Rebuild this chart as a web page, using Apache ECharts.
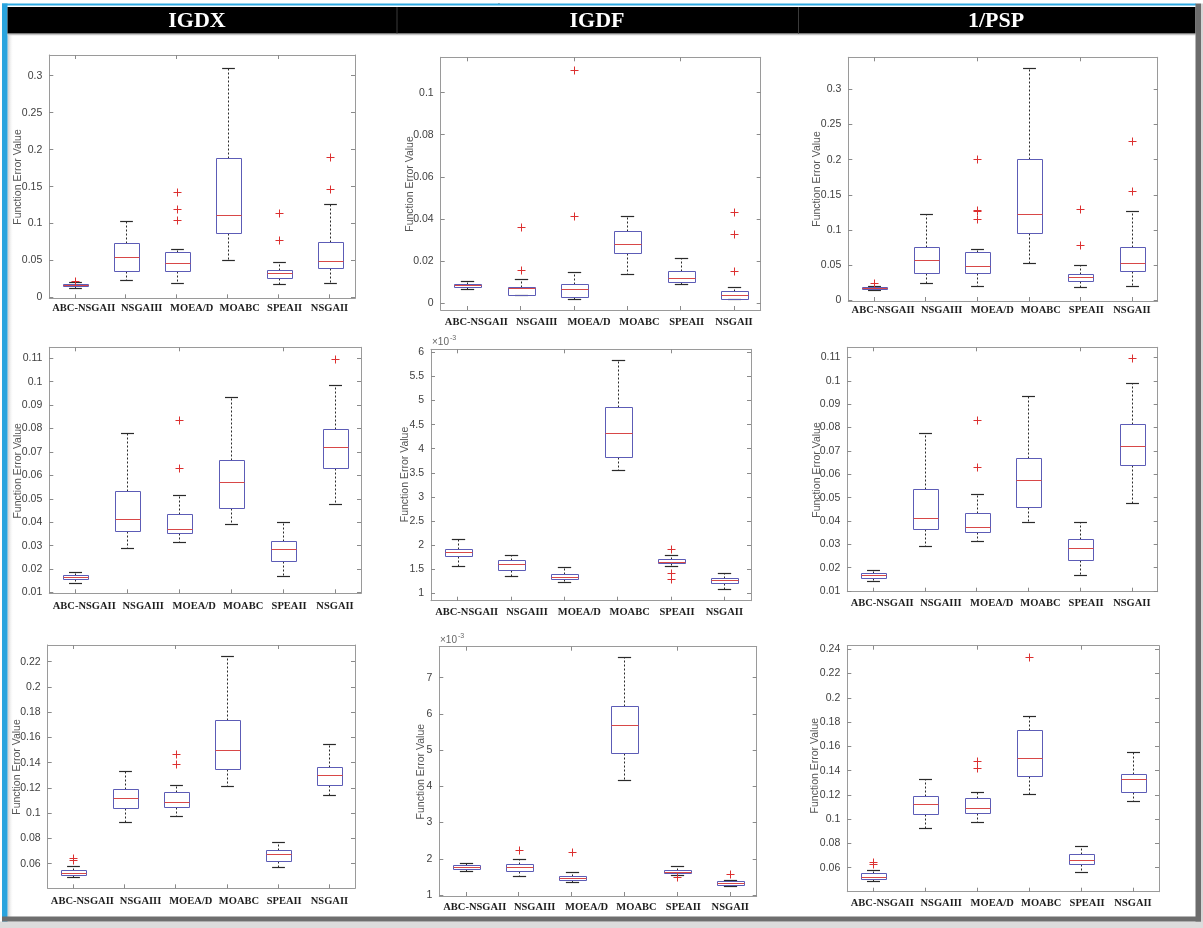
<!DOCTYPE html>
<html>
<head>
<meta charset="utf-8">
<script src="https://cdn.jsdelivr.net/npm/echarts@6.0.0/dist/echarts.min.js"></script>
<style>
html,body{margin:0;padding:0;background:#fff;}
#chart{width:1203px;height:928px;}
</style>
</head>
<body>
<div id="chart"></div>
<script>
// ---------------- DATA ----------------
const categories = ['ABC-NSGAII', 'NSGAIII', 'MOEA/D', 'MOABC', 'SPEAII', 'NSGAII'];
const metricTitles = ['IGDX', 'IGDF', '1/PSP'];
const yAxisTitle = 'Function Error Value';
const sciLabel = '\u00d710';
const sciExp = '-3';

// box stats: [min, Q1, median, Q3, max] per category ; outliers: [categoryIndex, value]
// Row 1
const igdxR1Box = [[0.013,0.0155,0.017,0.019,0.021],[0.024,0.036,0.0555,0.0735,0.103],[0.0194,0.036,0.047,0.061,0.065],[0.051,0.087,0.1123,0.1886,0.3104],[0.0185,0.0266,0.033,0.037,0.0487],[0.0194,0.0397,0.050,0.0753,0.127]];
const igdxR1Out = [[0,0.023],[2,0.1425],[2,0.1195],[2,0.1047],[4,0.115],[4,0.078],[5,0.19],[5,0.147]];
const igdxR1Ticks = [0,0.05,0.1,0.15,0.2,0.25,0.3];

const igdfR1Box = [[0.0065,0.0077,0.0085,0.0092,0.0104],[0.0036,0.0038,0.007,0.0078,0.0116],[0.002,0.003,0.0068,0.0092,0.0149],[0.0136,0.0238,0.028,0.0342,0.0415],[0.0092,0.0098,0.012,0.0152,0.0216],[0.002,0.0021,0.0038,0.0055,0.0078]];
const igdfR1Out = [[1,0.0361],[1,0.0157],[2,0.111],[2,0.0414],[5,0.0434],[5,0.033],[5,0.0152]];
const igdfR1Ticks = [0,0.02,0.04,0.06,0.08,0.1];

const pspR1Box = [[0.014,0.016,0.0175,0.0195,0.021],[0.0246,0.0384,0.0573,0.0763,0.1227],[0.02,0.0384,0.049,0.068,0.0735],[0.0526,0.0953,0.1223,0.2014,0.33],[0.019,0.0275,0.033,0.037,0.0498],[0.0209,0.0412,0.053,0.0763,0.1275]];
const pspR1Out = [[0,0.024],[2,0.201],[2,0.129],[2,0.127],[2,0.1156],[4,0.13],[4,0.078],[5,0.226],[5,0.1555]];
const pspR1Ticks = [0,0.05,0.1,0.15,0.2,0.25,0.3];

// Row 2
const igdxR2Box = [[0.0143,0.0157,0.0168,0.0175,0.019],[0.0292,0.0365,0.0414,0.0534,0.078],[0.0318,0.0353,0.0372,0.0434,0.0515],[0.0393,0.0463,0.0574,0.0665,0.0934],[0.0171,0.0237,0.0285,0.0322,0.04],[0.0477,0.0633,0.0723,0.080,0.0986]];
const igdxR2Out = [[2,0.0837],[2,0.0633],[5,0.1097]];
const igdxR2Ticks = [0.01,0.02,0.03,0.04,0.05,0.06,0.07,0.08,0.09,0.1,0.11];

// values in units of 1e-3
const igdfR2Box = [[1.574,1.775,1.85,1.927,2.127],[1.367,1.484,1.60,1.69,1.795],[1.242,1.297,1.346,1.40,1.54],[3.566,3.828,4.333,4.873,5.848],[1.57,1.622,1.65,1.705,1.795],[1.083,1.207,1.27,1.325,1.43]];
const igdfR2Out = [[4,1.913],[4,1.43],[4,1.30]];
const igdfR2Ticks = [1,1.5,2,2.5,3,3.5,4,4.5,5,5.5,6];

const pspR2Box = [[0.0143,0.0157,0.0167,0.0176,0.0189],[0.0293,0.0364,0.0411,0.0536,0.0779],[0.0316,0.0354,0.0376,0.0433,0.0516],[0.0394,0.0461,0.0574,0.0671,0.0937],[0.0169,0.0233,0.0283,0.0321,0.0397],[0.0476,0.0639,0.0723,0.0814,0.099]];
const pspR2Out = [[2,0.0833],[2,0.0631],[5,0.1097]];
const pspR2Ticks = [0.01,0.02,0.03,0.04,0.05,0.06,0.07,0.08,0.09,0.1,0.11];

// Row 3
const igdxR3Box = [[0.0492,0.0508,0.0529,0.0547,0.0584],[0.093,0.1044,0.1123,0.1189,0.1337],[0.0975,0.1049,0.1088,0.117,0.1223],[0.1218,0.135,0.1503,0.1735,0.2242],[0.0571,0.0624,0.0674,0.0706,0.0774],[0.1141,0.1223,0.13,0.1368,0.1548]];
const igdxR3Out = [[0,0.0648],[0,0.0626],[2,0.1466],[2,0.1387]];
const igdxR3Ticks = [0.06,0.08,0.1,0.12,0.14,0.16,0.18,0.2,0.22];

// values in units of 1e-3
const igdfR3Box = [[1.663,1.718,1.773,1.828,1.874],[1.534,1.663,1.764,1.847,1.985],[1.359,1.414,1.478,1.534,1.626],[4.166,4.92,5.684,6.218,7.561],[1.552,1.598,1.644,1.70,1.81],[1.258,1.285,1.34,1.386,1.414]];
const igdfR3Out = [[1,2.233],[2,2.187],[4,1.50],[5,1.589]];
const igdfR3Ticks = [1,2,3,4,5,6,7];

const pspR3Box = [[0.0493,0.0504,0.0526,0.0556,0.0581],[0.093,0.104,0.1128,0.1191,0.1334],[0.0974,0.1053,0.1092,0.1174,0.1227],[0.121,0.1353,0.1501,0.1738,0.185],[0.0564,0.063,0.0666,0.071,0.0776],[0.1147,0.1227,0.1328,0.1375,0.1551]];
const pspR3Out = [[0,0.0644],[0,0.0627],[2,0.1479],[2,0.1419],[3,0.2337]];
const pspR3Ticks = [0.06,0.08,0.1,0.12,0.14,0.16,0.18,0.2,0.22,0.24];

// ---------------- LAYOUT / STYLE ----------------
const panels = [
  {box: igdxR1Box, out: igdxR1Out, ticks: igdxR1Ticks, grid: [49.3, 55, 305.7, 243.3], range: [-0.001, 0.328], name: [18.3, 177], xm: 4.5},
  {box: igdfR1Box, out: igdfR1Out, ticks: igdfR1Ticks, grid: [440.7, 57.3, 320, 252.7], range: [-0.0033, 0.1168], name: [410, 184], xm: 7},
  {box: pspR1Box, out: pspR1Out, ticks: pspR1Ticks, grid: [848.3, 57.3, 309.4, 243.7], range: [-0.001, 0.3455], name: [816.7, 179], xm: 4},
  {box: igdxR2Box, out: igdxR2Out, ticks: igdxR2Ticks, grid: [49.3, 347.3, 311.7, 246], range: [0.0097, 0.1147], name: [17.7, 470.8], xm: 7},
  {box: igdfR2Box, out: igdfR2Out, ticks: igdfR2Ticks, grid: [431, 349.3, 320, 251.4], range: [0.848, 6.062], name: [405, 474.5], xm: 6, sci: [432, 342]},
  {box: pspR2Box, out: pspR2Out, ticks: pspR2Ticks, grid: [847.3, 347.3, 310.4, 244.4], range: [0.0097, 0.1144], name: [816.7, 470], xm: 6},
  {box: igdxR3Box, out: igdxR3Out, ticks: igdxR3Ticks, grid: [47.7, 645, 307.3, 243.3], range: [0.0405, 0.2332], name: [16.7, 767], xm: 7},
  {box: igdfR3Box, out: igdfR3Out, ticks: igdfR3Ticks, grid: [439.3, 646.7, 317.4, 249.3], range: [0.972, 7.856], name: [421, 771.7], xm: 6, sci: [440, 640]},
  {box: pspR3Box, out: pspR3Out, ticks: pspR3Ticks, grid: [847.3, 645.7, 311.7, 246], range: [0.0402, 0.243], name: [815, 765.7], xm: 6}
];
// horizontal shift (px) of each category label relative to its tick (labels are evenly typeset in the source)
const labelShift = [9, 16, 15, 12, 6, 0];

const FRAME = '#9a9a9a';
const BOX = '#5c5cb6';
const MED = '#d84848';
const WHISK = '#2a2a2a';
const OUT = '#dc3030';
const LABEL_FONT = '"Liberation Serif", "Times New Roman", serif';

function crisp(v) { return Math.round(v) + 0.5; }

function renderBox(params, api) {
  const ci = api.value(0);
  const pMin = api.coord([ci, api.value(1)]);
  const pQ1 = api.coord([ci, api.value(2)]);
  const pMed = api.coord([ci, api.value(3)]);
  const pQ3 = api.coord([ci, api.value(4)]);
  const pMax = api.coord([ci, api.value(5)]);
  const band = api.size([1, 0])[0];
  const hw = band * 0.25, cw = band * 0.125;
  const cx = crisp(pMin[0]);
  const yMin = crisp(pMin[1]), yQ1 = crisp(pQ1[1]), yMed = crisp(pMed[1]), yQ3 = crisp(pQ3[1]), yMax = crisp(pMax[1]);
  const x0 = crisp(cx - hw), x1 = crisp(cx + hw);
  return {
    type: 'group',
    children: [
      {type: 'line', shape: {x1: cx, y1: yQ3, x2: cx, y2: yMax}, style: {stroke: WHISK, lineWidth: 1, lineDash: [2, 2]}},
      {type: 'line', shape: {x1: cx, y1: yQ1, x2: cx, y2: yMin}, style: {stroke: WHISK, lineWidth: 1, lineDash: [2, 2]}},
      {type: 'line', shape: {x1: cx - cw, y1: yMax, x2: cx + cw, y2: yMax}, style: {stroke: WHISK, lineWidth: 1.2}},
      {type: 'line', shape: {x1: cx - cw, y1: yMin, x2: cx + cw, y2: yMin}, style: {stroke: WHISK, lineWidth: 1.2}},
      {type: 'rect', shape: {x: x0, y: yQ3, width: x1 - x0, height: yQ1 - yQ3}, style: {fill: 'rgba(255,255,255,0)', stroke: BOX, lineWidth: 1}},
      {type: 'line', shape: {x1: x0, y1: yMed, x2: x1, y2: yMed}, style: {stroke: MED, lineWidth: 1}}
    ]
  };
}

function renderOutlier(params, api) {
  const p = api.coord([api.value(0), api.value(1)]);
  const x = crisp(p[0]), y = crisp(p[1]), s = 4;
  return {
    type: 'group',
    children: [
      {type: 'line', shape: {x1: x - s, y1: y, x2: x + s, y2: y}, style: {stroke: OUT, lineWidth: 1}},
      {type: 'line', shape: {x1: x, y1: y - s, x2: x, y2: y + s}, style: {stroke: OUT, lineWidth: 1}}
    ]
  };
}

const fmt = v => String(+(+v).toFixed(5));

// rich styles shifting each category label
const labelRich = {};
labelShift.forEach((d, k) => {
  labelRich['c' + k] = {
    fontFamily: LABEL_FONT, fontWeight: 'bold', fontSize: 10.5, color: '#1e1e1e',
    padding: d >= 0 ? [0, 0, 0, 2 * d] : [0, -2 * d, 0, 0]
  };
});
const labelFmt = (v) => '{c' + categories.indexOf(v) + '|' + v + '}';

const grids = [], xAxes = [], yAxes = [], series = [], graphics = [];

panels.forEach((p, i) => {
  grids.push({left: p.grid[0], top: p.grid[1], width: p.grid[2], height: p.grid[3], show: false});
  const tickStyle = {show: true, inside: true, length: 4, lineStyle: {color: '#8a8a8a'}};
  xAxes.push({
    type: 'category', gridIndex: i, data: categories, position: 'bottom', boundaryGap: true,
    axisLine: {show: true, onZero: false, lineStyle: {color: FRAME}},
    axisTick: Object.assign({alignWithLabel: true}, tickStyle),
    axisLabel: {show: true, interval: 0, margin: p.xm, hideOverlap: false, formatter: labelFmt, rich: labelRich,
      fontFamily: LABEL_FONT, fontWeight: 'bold', fontSize: 10.5, color: '#1e1e1e'},
    splitLine: {show: false}
  });
  xAxes.push({
    type: 'category', gridIndex: i, data: categories, position: 'top', boundaryGap: true,
    axisLine: {show: true, onZero: false, lineStyle: {color: FRAME}},
    axisTick: Object.assign({alignWithLabel: true}, tickStyle),
    axisLabel: {show: false}, splitLine: {show: false}
  });
  yAxes.push({
    type: 'value', gridIndex: i, position: 'left', min: p.range[0], max: p.range[1],
    axisLine: {show: true, onZero: false, lineStyle: {color: FRAME}},
    axisTick: Object.assign({customValues: p.ticks}, tickStyle),
    axisLabel: {show: true, customValues: p.ticks, formatter: fmt, margin: 7, fontFamily: '"Liberation Sans", Arial, sans-serif', fontSize: 10.5, color: '#404040'},
    splitLine: {show: false}
  });
  yAxes.push({
    type: 'value', gridIndex: i, position: 'right', min: p.range[0], max: p.range[1],
    axisLine: {show: true, onZero: false, lineStyle: {color: FRAME}},
    axisTick: Object.assign({customValues: p.ticks}, tickStyle),
    axisLabel: {show: false}, splitLine: {show: false}
  });
  series.push({
    type: 'custom', xAxisIndex: 2 * i, yAxisIndex: 2 * i, renderItem: renderBox,
    encode: {x: 0, y: [1, 2, 3, 4, 5]},
    data: p.box.map((b, k) => [k].concat(b)), clip: false, z: 3
  });
  series.push({
    type: 'custom', xAxisIndex: 2 * i, yAxisIndex: 2 * i, renderItem: renderOutlier,
    encode: {x: 0, y: 1}, data: p.out, clip: false, z: 4
  });
  graphics.push({
    type: 'text', x: p.name[0], y: p.name[1], rotation: Math.PI / 2, z: 10,
    style: {text: yAxisTitle, fontFamily: '"Liberation Sans", Arial, sans-serif', fontSize: 10.5, fill: '#555', align: 'center', verticalAlign: 'middle'}
  });
  if (p.sci) {
    graphics.push({type: 'text', x: p.sci[0], y: p.sci[1], z: 10,
      style: {text: sciLabel, fontFamily: '"Liberation Sans", Arial, sans-serif', fontSize: 10, fill: '#666', align: 'left', verticalAlign: 'middle'}});
    graphics.push({type: 'text', x: p.sci[0] + 18, y: p.sci[1] - 4, z: 10,
      style: {text: sciExp, fontFamily: '"Liberation Sans", Arial, sans-serif', fontSize: 7, fill: '#666', align: 'left', verticalAlign: 'middle'}});
  }
});

// ---- frame decorations ----
graphics.push(
  {type: 'text', x: 497, y: 5, z: 1, style: {text: 'p', fontFamily: '"Liberation Serif", serif', fontSize: 17, fill: '#111', align: 'left', verticalAlign: 'bottom'}},
  {type: 'rect', shape: {x: 0, y: 0, width: 1203, height: 3.5}, z: 2, style: {fill: '#fff'}},
  {type: 'rect', shape: {x: 1201, y: 0, width: 2, height: 928}, z: 1, style: {fill: '#d6d6d6'}},
  {type: 'rect', shape: {x: 0, y: 921.5, width: 1203, height: 6.5}, z: 1, style: {fill: '#dcdcdc'}},
  {type: 'rect', shape: {x: 2, y: 3.5, width: 1194, height: 2}, z: 2, style: {fill: '#2ea9e2'}},
  {type: 'rect', shape: {x: 2, y: 3.5, width: 5.5, height: 918}, z: 2, style: {fill: '#2aa4de'}},
  {type: 'rect', shape: {x: 7.5, y: 35, width: 6, height: 882}, z: 1,
    style: {fill: new echarts.graphic.LinearGradient(0, 0, 1, 0, [{offset: 0, color: '#c9c9c9'}, {offset: 1, color: 'rgba(255,255,255,0)'}])}},
  {type: 'rect', shape: {x: 7.5, y: 7, width: 1188, height: 26.5}, z: 2, style: {fill: '#000'}},
  {type: 'rect', shape: {x: 7.5, y: 33.5, width: 1188, height: 3}, z: 2,
    style: {fill: new echarts.graphic.LinearGradient(0, 0, 0, 1, [{offset: 0, color: '#7a7a7a'}, {offset: 1, color: 'rgba(255,255,255,0)'}])}},
  {type: 'rect', shape: {x: 396.5, y: 7, width: 1, height: 26.5}, z: 3, style: {fill: '#3a3a3a'}},
  {type: 'rect', shape: {x: 798, y: 7, width: 1, height: 26.5}, z: 3, style: {fill: '#3a3a3a'}},
  {type: 'rect', shape: {x: 1195.5, y: 3.5, width: 5.5, height: 918}, z: 2, style: {fill: '#6c6c6c'}},
  {type: 'rect', shape: {x: 2, y: 916.5, width: 1199, height: 5}, z: 2, style: {fill: '#6e6e6e'}}
);
const titleX = [197, 597, 996];
metricTitles.forEach((t, i) => {
  graphics.push({type: 'text', x: titleX[i], y: 21, z: 5,
    style: {text: t, fontFamily: LABEL_FONT, fontWeight: 'bold', fontSize: 22, fill: '#fff', align: 'center', verticalAlign: 'middle'}});
});

const chart = echarts.init(document.getElementById('chart'), null, {renderer: 'canvas', width: 1203, height: 928});
chart.setOption({
  animation: false,
  backgroundColor: '#fff',
  grid: grids,
  xAxis: xAxes,
  yAxis: yAxes,
  series: series,
  graphic: graphics
});
</script>
</body>
</html>
